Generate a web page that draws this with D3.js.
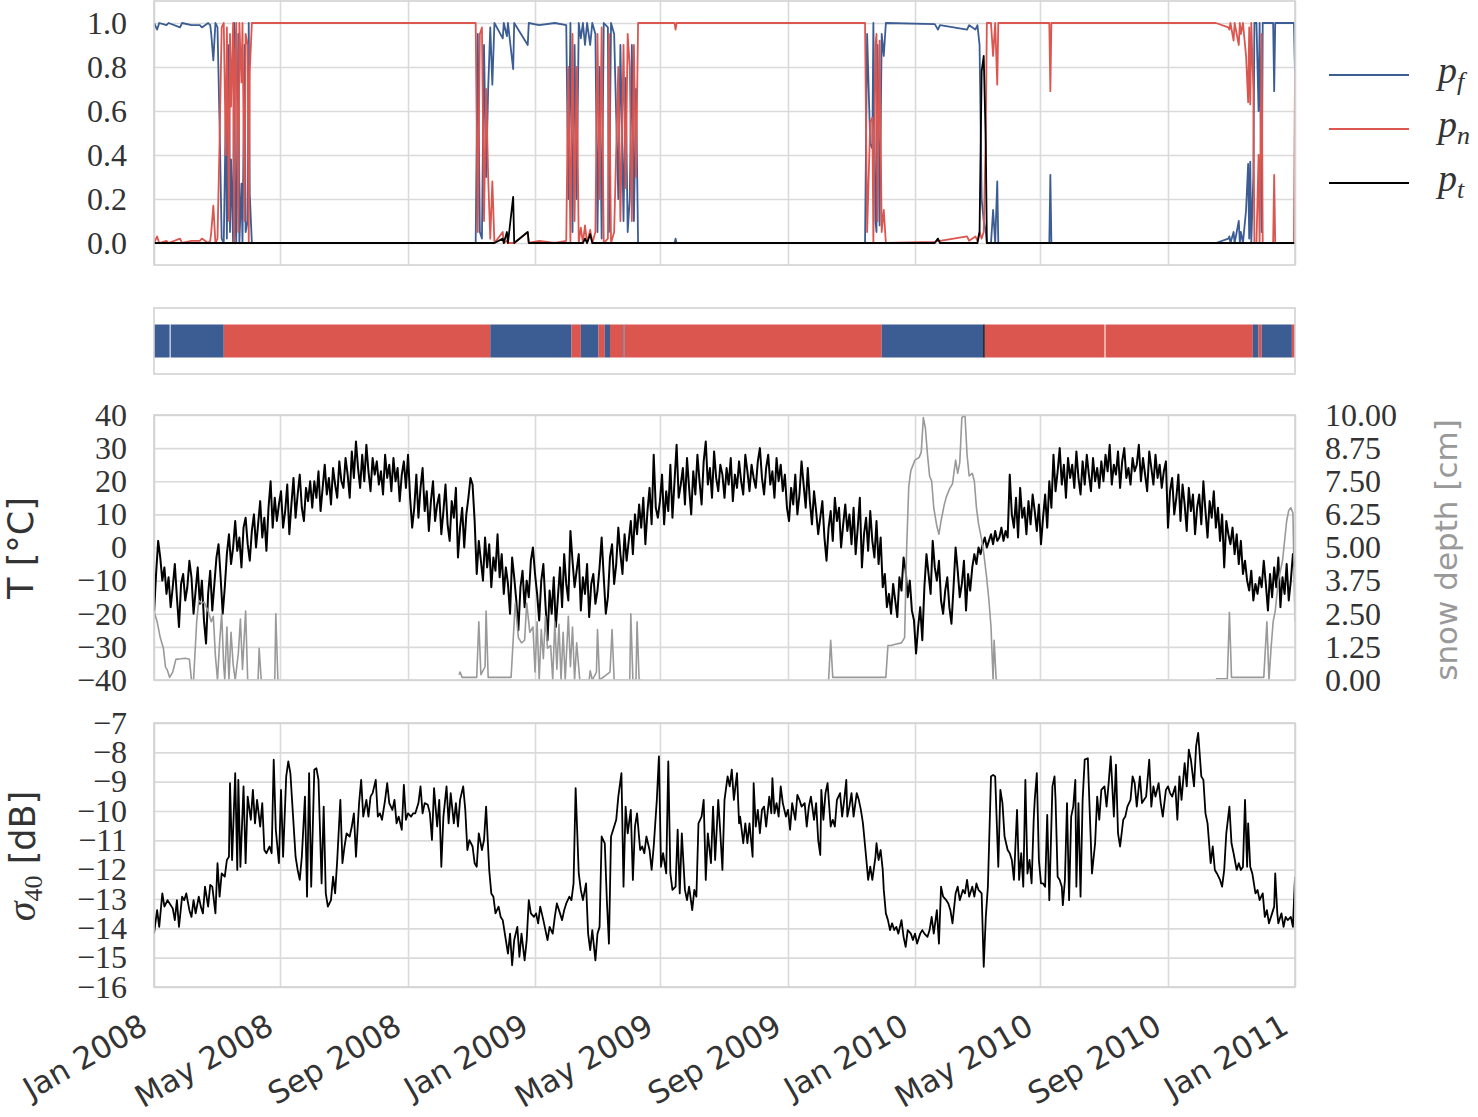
<!DOCTYPE html>
<html>
<head>
<meta charset="utf-8">
<title>freeze / thaw state</title>
<style>
  * { margin: 0; padding: 0 }
  html, body { width: 100%; height: 100%; background: #fff; }
  svg { display: block; }
</style>
</head>
<body>
<svg id="chart" width="1478" height="1117"></svg>
<script src="https://cdn.jsdelivr.net/npm/d3@7"></script>
<script>
// ---- data (day = days since 2008-01-01) ----
const monthTicks = ['2008-01-01', '2008-05-01', '2008-09-01', '2009-01-01', '2009-05-01', '2009-09-01',
  '2010-01-01', '2010-05-01', '2010-09-01', '2011-01-01'];
const probTicks = [0, 0.2, 0.4, 0.6, 0.8, 1.0];
const tempTicks = [-40, -30, -20, -10, 0, 10, 20, 30, 40];
const snowTicks = [0, 1.25, 2.5, 3.75, 5, 6.25, 7.5, 8.75, 10];
const sigmaTicks = [-16, -15, -14, -13, -12, -11, -10, -9, -8, -7];

// [day, p_f, p_n, p_t]
const probPoints = [
  [0,1,0,0],[3,0.97,0.03,0],[5,1,0,0],[12,0.99,0.01,0],[14,1,0,0],[25,0.98,0.02,0],[27,1,0,0],[36,0.99,0.01,0],
  [44,0.99,0.01,0],[46,0.98,0.02,0],[52,1,0,0],[54,0.99,0.01,0],[55,0.95,0.05,0],[57,0.83,0.17,0],[59,1,0,0],
  [61,0.98,0.02,0],[63,0.54,0.46,0],[65,0.02,0.98,0],[67,0,1,0],[69,0.6,0.4,0],[70,0.02,0.98,0],[72,0.9,0.1,0],
  [73,0.05,0.95,0],[74,0.38,0.62,0],[76,0,1,0],[77,1,0,0],[78,0.14,0.86,0],[79,0,1,0],[81,0.95,0.05,0],[82,0,1,0],
  [84,0.27,0.73,0],[85,0,1,0],[87,0.9,0.1,0],[88,0.05,0.95,0],[90,0.1,0.9,0],[91,1,0,0],[92,0.22,0.78,0],[94,0,1,0],
  [309,0,1,0],[311,0.95,0.05,0],[313,0.05,0.95,0],[315,0.02,0.98,0],[317,0.9,0.1,0],[319,0.3,0.7,0],[321,0.7,0.3,0],
  [323,0.98,0.02,0],[325,0.72,0.28,0],[327,1,0,0],[335,0.93,0.05,0.02],[336,1,0,0],[339,0.94,0.01,0.05],[340,1,0,0],
  [345,0.79,0,0.21],[346,1,0,0],[359,0.9,0.05,0.05],[360,1,0,0],[370,0.99,0.01,0],[385,1,0,0],[396,0.99,0.01,0],
  [398,0.2,0.8,0],[400,1,0,0],[402,0.05,0.95,0],[404,0.9,0.1,0],[406,0.2,0.8,0],[408,1,0,0],[410,0.93,0.07,0],
  [412,1,0,0],[414,0.9,0.08,0.02],[416,1,0,0],[419,0.9,0.06,0.04],[421,1,0,0],[424,0.95,0.05,0],[426,0.05,0.95,0],
  [428,0.8,0.2,0],[430,0.02,0.98,0],[432,1,0,0],[436,0.98,0.02,0],[437,0.05,0.95,0],[439,1,0,0],[442,0.95,0.05,0],
  [446,0.2,0.8,0],[448,0.9,0.1,0],[451,0.1,0.9,0],[453,0.75,0.25,0],[455,0.05,0.95,0],[457,0.2,0.8,0],[459,0.9,0.1,0],
  [461,0.1,0.9,0],[463,0.7,0.3,0],[465,0,1,0],[500,0,1,0],[501,0.02,0.97,0],[502,0,1,0],
  [683,0,1,0],[685,0.95,0.05,0],[688,0.45,0.55,0],[690,0.43,0.57,0],[691,1,0,0],[693,0.1,0.9,0],[694,0.05,0.95,0],
  [695,0.9,0.1,0],[697,0.08,0.92,0],[699,0.95,0.05,0],[701,0.85,0.15,0],[703,1,0,0],[750,0.995,0.005,0],
  [753,0.97,0.01,0.02],[755,0.99,0.01,0],[781,0.97,0.03,0],[783,0.99,0.01,0],[789,0.97,0.03,0],[791,0.99,0.01,0],
  [793,0.9,0.05,0.05],[795,0.2,0.02,0.78],[797,0.1,0.05,0.85],[799,0.05,0.5,0.45],[800,0,1,0],[804,0,1,0],
  [806,0.15,0.85,0],[808,0,1,0],[810,0.28,0.72,0],[811,0,1,0],[860,0,1,0],[861,0.31,0.69,0],[862,0,1,0],
  [1020,0,1,0],[1032,0.02,0.98,0],[1033,0.03,0.97,0],[1034,0,1,0],[1037,0.05,0.92,0],[1038,0,1,0],[1042,0.1,0.9,0],
  [1043,0,1,0],[1044,0.05,0.95,0],[1046,0,1,0],[1049,0.15,0.85,0],[1051,0.36,0.64,0],[1052,0.02,0.98,0],
  [1053,0.37,0.63,0],[1054,0,1,0],[1056,0.3,0.7,0],[1057,1,0,0],[1059,1,0,0],[1061,0.6,0.4,0],[1062,1,0,0],
  [1064,0.05,0.95,0],[1065,1,0,0],[1075,1,0,0],[1076,0.69,0.31,0],[1077,1,0,0],[1095,1,0,0],[1096,0.77,0.78,0]
];

// [start day, end day, state]  f = frozen, n = non-frozen, t = thawing
const classSegments = [
  [0,15,'f'],[16,67,'f'],[67,323,'n'],[323,401,'f'],[401,410,'n'],[410,427,'f'],[427,433,'n'],[433,438,'f'],
  [438,451,'n'],[451,452,'f'],[452,699,'n'],[699,796.5,'f'],[796.5,798,'t'],[798,913,'n'],[914,1055.5,'n'],
  [1055.5,1061,'f'],[1061,1064,'n'],[1064,1093,'f'],[1093,1096,'n']
];

// air temperature, one value every 2 days (one row per month)
const tempStep = 2;
const tempValues = [
  -20, -8, 2, -3, -10, -6, -14, -9, -18, -12, -5, -15, -24, -11, -8, -16,
  -12, -4, -9, -20, -13, -6, -17, -10, -22, -29, -14, -7, -19, -11,
  -3, 1, -9, -20, -12, -2, 4, -5, 0, 8, -1, 3, -6, 6, 9, 1,
  -4, 5, 10, 0, 7, 14, 3, 9, -1, 12, 20, 6, 15, 8, 13,
  17, 6, 11, 19, 4, 13, 21, 9, 16, 22, 12, 8, 18, 14, 20,
  12, 20, 15, 23, 11, 18, 25, 16, 21, 13, 24, 19, 15, 26, 20,
  18, 27, 22, 15, 29, 21, 32, 24, 18, 28, 20, 31, 23, 17, 27, 22,
  26, 19, 23, 16, 28, 21, 25, 17, 27, 20, 24, 14, 22, 26, 18,
  28, 15, 6, 12, 22, 9, 18, 24, 11, 17, 5, 14, 20, 8, 13,
  16, 4, 11, 19, 7, 2, 14, 9, 18, -3, 6, 12, 0, 10, 15, 21,
  19, 8, -8, 2, -4, -10, 3, -6, 1, -12, -3, -7, 4, -9, -2,
  -14, -6, -11, -20, -3, -9, -16, -25, -12, -7, -18, -10, -15, -4, 0,
  -8, -14, -22, -10, -5, -17, -28, -13, -20, -9, -24, -15, -6, -18, -2, -11,
  -16, 5, -4, -12, -7, -2, -19, -9, -14, -5, -21, -11, -8, -17,
  -13, -6, 3, -9, -20, -15, -3, 1, -11, -5, 6, -2, -8, 4, -4,
  2, 8, -2, 10, 4, 13, 6, 15, 1, 11, 18, 7, 28, 12, 9,
  14, 22, 7, 17, 11, 25, 9, 20, 31, 15, 19, 24, 13, 27, 18, 10,
  23, 16, 28, 20, 13, 26, 32, 19, 24, 15, 29, 21, 17, 25, 22,
  15, 24, 19, 27, 14, 22, 18, 26, 20, 16, 28, 23, 17, 25, 21,
  18, 26, 30, 21, 16, 24, 28, 19, 23, 15, 27, 20, 25, 17, 22, 12,
  8, 18, 13, 22, 10, 16, 26, 19, 12, 24, 14, 7, 17, 11, 4,
  9, 14, 3, -4, 6, 11, 2, 15, 8, 12, 0, 7, 13, 5, 10,
  1, 12, -2, 6, 15, -6, 4, 9, -1, 11, 2, -3, 8, -5, 3,
  -12, -8, -18, -14, -20, -11, -16, -21, -9, -13, -3, -7, -15, -10, -19, -22,
  -32, -24, -18, -28, -12, -2, -8, -14, 2, -6, -10, -4, -16, -20, -13,
  -9, -18, -23, -12, 0, -7, -15, -11, -4, -19, -8, -13, -6, -2,
  -5, 0, -2, 1, 3, 0, 2, 4, 1, 5, 2, 3, 6, 2, 5, 3,
  22, 10, 6, 15, 3, 18, 9, 12, 4, 14, 7, 16, 11, 5, 13,
  1, 9, 16, 6, 20, 12, 28, 17, 23, 30, 19, 25, 15, 27, 21,
  25, 18, 29, 21, 16, 26, 19, 28, 22, 17, 27, 20, 24, 18, 26,
  20, 28, 23, 31, 19, 25, 22, 29, 18, 26, 30, 21, 24, 19, 27, 23,
  25, 31, 20, 27, 22, 17, 29, 24, 19, 28, 21, 25, 18, 23, 26,
  6, 17, 21, 10, 15, 22, 8, 19, 13, 5, 18, 11, 16, 4, 12,
  16, 7, 20, 11, 3, 14, 9, 17, 6, 12, 2, 10, -6, 8, 4, 1,
  6, -2, 4, -5, 2, -8, -4, -10, -13, -7, -16, -11, -14, -9, -12,
  -4, -11, -19, -8, -15, -6, -12, -3, -18, -9, -14, -5, -16, -10, -2,
  -6
];

// [day, snow depth cm], null = no record
const snowPoints = [
  [0,2.6],[3,2.2],[6,1.6],[9,1.2],[11,0.5],[13,0.35],[15,0.1],[18,0.3],[21,0.78],[26,0.8],[30,0.82],[34,0.78],
  [36,0],[38,0],[41,2.2],[43,3.0],[46,2.9],[48,2.95],[52,2.6],[55,2.2],[57,2.4],[59,0.9],[61,0],[63,1.4],[65,2.5],
  [67,0.5],[68,0],[70,2.0],[72,0],[74,1.8],[76,0.6],[78,0],[81,1.0],[83,2.3],[85,0.4],[88,2.6],[90,0],[100,0],
  [101,1.2],[103,0],[116,0],[117,2.5],[119,0],[121,0],[122,null],
  [293,0.2],[294,0.3],[296,0.1],[310,0.1],[312,2.2],[314,0.2],[318,0.5],[319,2.6],[321,0.1],[343,0.1],[345,1.5],
  [347,2.9],[350,1.6],[353,1.4],[356,1.5],[358,2.9],[361,1.8],[364,2.0],[366,0.3],[368,2.2],[370,0],[372,1.9],
  [374,0.8],[376,2.4],[378,1.2],[381,1.3],[383,0],[385,2.2],[387,0.4],[389,2.1],[391,0],[393,1.8],[395,0],
  [398,2.4],[400,0.5],[402,2.0],[404,0],[406,1.4],[409,0],[418,0],[419,0.35],[421,0],[425,0.3],[426,1.9],[428,0],
  [438,0.3],[440,1.9],[442,0],[457,0],[458,2.5],[460,0],[463,0],[464,2.2],[466,0],[468,0],[469,null],
  [648,0],[650,1.5],[652,0.1],[700,0.1],[703,0.1],[705,1.3],[708,1.3],[712,1.35],[718,1.4],[721,1.6],[723,5.0],
  [725,7.3],[727,7.9],[731,8.3],[735,8.4],[737,8.6],[739,9.9],[741,9.5],[743,8.5],[745,7.7],[747,7.5],[749,6.5],
  [752,5.8],[754,5.5],[756,6.0],[759,6.6],[761,6.9],[764,7.2],[767,7.4],[770,8.3],[772,7.8],[774,8.2],[776,9.9],
  [779,10],[781,8.5],[783,7.7],[786,7.8],[788,7.5],[790,6.5],[792,5.9],[795,5.3],[797,4.8],[800,3.8],[802,3.0],
  [804,2.0],[806,0],[807,1.5],[809,0],[811,0],[812,null],
  [1020,0.05],[1031,0.05],[1033,2.55],[1035,0.1],[1066,0.1],[1069,2.2],[1071,0],[1073,1.2],[1075,2.2],[1077,2.6],
  [1080,3.75],[1084,4.5],[1088,6.0],[1090,6.4],[1092,6.5],[1094,6.3],[1096,2.2]
];

// [day, sigma40 dB]
const sigmaPoints = [
  [0,-14.18],[3,-13.38],[5,-13.95],[8,-12.81],[10,-13.26],[13,-13.04],[18,-13.32],[20,-13.72],[22,-13.04],[24,-13.95],
  [27,-12.92],[29,-13.04],[31,-12.81],[34,-13.38],[36,-13.61],[38,-13.04],[40,-13.49],[43,-12.92],[45,-13.26],[47,-13.49],
  [49,-12.58],[52,-13.26],[54,-12.52],[56,-12.58],[59,-13.49],[61,-11.78],[63,-12.92],[65,-12.13],[68,-12.24],[70,-11.67],
  [72,-11.56],[73,-9.05],[75,-11.67],[78,-8.71],[80,-12.01],[81,-8.94],[83,-11.90],[86,-9.16],[88,-11.78],[90,-9.51],
  [93,-10.30],[95,-9.28],[97,-10.42],[99,-9.62],[102,-10.53],[104,-9.73],[106,-11.33],[108,-11.44],[111,-11.21],[113,-11.44],
  [115,-8.25],[117,-10.64],[120,-11.78],[122,-9.28],[124,-11.56],[127,-8.82],[129,-8.31],[131,-8.71],[133,-9.85],[136,-11.56],
  [138,-12.01],[140,-12.35],[142,-11.56],[145,-9.51],[147,-12.92],[149,-8.71],[151,-12.58],[154,-8.59],[156,-8.54],[158,-8.94],
  [161,-12.47],[163,-9.85],[165,-12.81],[167,-13.26],[170,-13.04],[172,-12.24],[174,-12.81],[176,-11.67],[179,-9.62],[181,-11.78],
  [183,-11.21],[185,-10.76],[188,-10.87],[190,-10.53],[192,-10.08],[194,-11.56],[197,-9.73],[199,-8.94],[201,-10.19],[204,-9.62],
  [206,-10.19],[208,-9.51],[210,-9.39],[213,-8.94],[215,-10.19],[217,-10.08],[219,-10.30],[222,-9.62],[224,-9.05],[226,-9.73],
  [229,-9.96],[231,-9.62],[233,-10.42],[235,-10.19],[238,-10.64],[240,-9.11],[242,-10.30],[244,-10.08],[247,-10.19],[249,-10.08],
  [251,-10.08],[254,-9.73],[256,-9.16],[258,-10.08],[260,-9.73],[263,-9.79],[265,-10.08],[267,-10.99],[269,-9.22],[272,-10.53],
  [274,-9.62],[276,-11.90],[278,-10.19],[281,-9.16],[283,-10.42],[285,-9.39],[288,-10.42],[290,-9.73],[292,-10.53],[294,-9.62],
  [297,-9.16],[299,-9.96],[301,-11.33],[303,-10.99],[306,-11.21],[308,-11.78],[310,-11.90],[312,-10.76],[315,-11.33],[317,-10.99],
  [319,-9.85],[322,-12.01],[324,-12.81],[326,-12.92],[328,-13.49],[331,-13.26],[333,-13.61],[335,-13.72],[337,-14.18],[340,-14.86],
  [342,-14.18],[344,-15.26],[346,-14.40],[349,-13.95],[351,-14.97],[353,-14.18],[356,-15.09],[358,-14.40],[360,-13.04],[362,-13.49],
  [365,-13.61],[367,-13.49],[369,-13.83],[371,-13.26],[374,-13.72],[376,-14.06],[378,-14.40],[380,-13.95],[383,-14.18],[385,-13.61],
  [387,-13.15],[390,-13.49],[392,-13.72],[394,-13.38],[396,-13.15],[399,-12.92],[401,-13.04],[403,-12.47],[405,-9.22],[408,-12.13],
  [410,-12.69],[412,-13.04],[415,-12.47],[417,-14.18],[419,-14.74],[421,-14.06],[424,-15.09],[426,-14.18],[428,-13.95],[430,-10.87],
  [433,-11.10],[435,-13.04],[437,-14.52],[439,-10.87],[442,-10.53],[444,-10.30],[446,-9.51],[449,-8.71],[451,-12.58],[453,-9.85],
  [455,-10.76],[458,-9.96],[460,-12.35],[462,-10.53],[464,-10.08],[467,-11.33],[469,-11.21],[471,-11.44],[473,-10.87],[476,-11.33],
  [478,-12.01],[480,-11.21],[483,-9.62],[485,-8.14],[487,-11.90],[489,-11.44],[492,-12.13],[494,-8.31],[496,-12.13],[498,-12.69],
  [501,-12.58],[503,-10.64],[505,-12.81],[507,-10.76],[510,-12.69],[512,-13.04],[514,-12.58],[517,-13.38],[519,-12.69],[521,-12.92],
  [523,-10.42],[526,-10.19],[528,-9.62],[530,-12.35],[532,-10.76],[535,-11.78],[537,-9.85],[539,-11.67],[542,-9.62],[544,-10.76],
  [546,-12.01],[548,-9.62],[551,-8.82],[553,-9.16],[555,-8.59],[557,-9.62],[560,-8.71],[562,-10.42],
  [563,-10.19],[566,-11.10],[568,-10.42],[570,-11.10],[572,-10.42],[575,-11.56],[576,-9.05],[578,-10.53],[580,-9.96],[582,-10.76],
  [584,-9.96],[586,-9.85],[588,-10.53],[591,-9.51],[593,-10.08],[594,-8.88],[596,-10.08],[598,-9.73],[600,-10.19],[602,-9.16],
  [604,-9.73],[607,-10.19],[609,-9.96],[611,-10.64],[613,-9.73],[616,-10.30],[618,-9.45],[620,-9.62],[622,-9.85],[625,-9.73],
  [627,-10.53],[629,-9.85],[631,-9.51],[634,-10.30],[636,-9.73],[638,-10.99],[640,-11.50],[641,-9.28],[643,-10.30],[645,-9.39],
  [647,-9.05],[650,-10.53],[652,-10.30],[654,-10.53],[656,-9.62],[659,-9.39],[661,-10.19],[663,-9.62],[665,-8.94],[666,-10.19],
  [668,-9.85],[670,-9.39],[672,-10.19],[675,-9.39],[677,-9.62],[679,-9.96],[681,-10.42],[684,-11.56],[686,-12.35],[688,-11.90],
  [690,-12.35],[693,-11.56],[694,-11.10],[696,-11.67],[698,-11.33],[700,-12.01],[701,-12.69],[703,-13.49],[705,-13.72],[707,-14.06],
  [709,-13.83],[711,-14.06],[713,-13.95],[715,-14.18],[718,-13.72],[720,-14.29],[722,-14.63],[724,-14.06],[727,-14.18],[729,-14.40],
  [731,-14.18],[733,-14.52],[736,-14.18],[738,-14.06],[740,-14.18],[743,-14.29],[745,-14.06],[747,-13.61],[749,-14.18],[752,-13.38],
  [754,-14.52],[756,-12.58],[758,-12.92],[761,-13.04],[763,-13.15],[765,-13.38],[767,-13.83],[770,-12.81],[772,-12.58],[774,-13.04],
  [777,-12.69],[779,-12.81],[781,-12.35],[783,-12.92],[786,-12.58],[788,-12.92],[790,-12.47],[792,-12.69],[795,-12.81],[797,-15.31],
  [799,-13.61],[801,-12.58],[804,-8.82],[806,-8.77],[808,-8.82],[811,-11.90],[813,-9.28],[815,-9.73],[817,-10.87],[820,-11.33],
  [822,-11.44],[824,-11.67],[826,-12.35],[829,-9.96],[831,-12.35],[833,-11.44],[835,-12.58],[837,-8.94],[839,-12.13],[841,-11.67],
  [843,-12.47],[845,-10.30],[846,-9.62],[848,-8.71],[850,-11.67],[852,-12.47],[854,-12.47],[856,-12.58],[858,-10.13],[860,-13.04],
  [863,-9.16],[865,-8.82],[866,-9.62],[868,-12.24],[870,-12.35],[872,-12.58],[873,-13.21],[875,-12.35],[877,-9.73],[879,-13.04],
  [881,-10.19],[883,-9.85],[885,-8.94],[886,-12.58],[888,-9.73],[890,-12.92],[892,-9.62],[894,-8.25],[897,-8.20],[899,-10.19],
  [901,-12.13],[904,-11.10],[906,-9.51],[908,-10.30],[910,-9.28],[913,-9.16],[915,-9.85],[917,-9.05],[919,-8.14],[920,-8.82],
  [922,-10.19],[924,-8.42],[926,-10.76],[928,-11.21],[931,-10.30],[933,-10.19],[935,-9.85],[938,-9.62],[940,-8.82],[942,-9.05],
  [944,-9.85],[947,-8.82],[949,-9.73],[951,-9.62],[953,-9.51],[956,-8.25],[958,-9.85],[960,-9.16],[962,-9.51],[965,-9.05],
  [967,-9.73],[969,-10.19],[972,-9.28],[974,-9.16],[976,-9.39],[978,-9.51],[981,-9.16],[983,-10.30],[985,-8.82],[987,-9.62],
  [990,-8.37],[992,-9.16],[994,-7.91],[996,-8.25],[999,-9.16],[1001,-7.80],[1003,-7.34],[1006,-8.82],[1008,-8.94],[1010,-10.08],
  [1012,-10.42],[1015,-11.78],[1017,-11.21],[1019,-12.01],[1021,-12.13],[1024,-12.35],[1026,-12.58],[1028,-12.01],[1030,-10.76],[1033,-9.85],
  [1035,-11.10],[1037,-11.44],[1040,-12.01],[1042,-11.78],[1044,-12.01],[1046,-11.90],[1048,-9.62],[1050,-11.90],[1051,-10.42],[1053,-11.90],
  [1055,-12.13],[1058,-12.81],[1060,-12.69],[1062,-13.04],[1065,-12.81],[1067,-13.61],[1069,-13.38],[1071,-13.83],[1074,-13.49],[1076,-13.26],
  [1077,-12.13],[1079,-13.49],[1080,-13.83],[1083,-13.49],[1085,-13.95],[1087,-13.61],[1089,-13.72],[1092,-13.61],[1094,-13.95],[1096,-12.24]
];

// ---- drawing ----
const t0 = Date.UTC(2008, 0, 1);
const toDate = d => new Date(t0 + d * 864e5);
const left = 154, right = 1295;
const gridColor = '#dadada', frameColor = '#d2d2d2', textColor = '#333';
const blue = '#3c5c94', red = '#dc5650';

const svg = d3.select('#chart');
svg.append('rect').attr('width', 1478).attr('height', 1117).attr('fill', '#fff');
const defs = svg.append('defs');

const x = d3.scaleUtc().domain([toDate(0), toDate(1096)]).range([left, right]);
const monthDates = monthTicks.map(s => new Date(s + 'T00:00:00Z'));

function panel(id, top, bottom, grid, yScale, yTicks) {
  const g = svg.append('g');
  defs.append('clipPath').attr('id', id).append('rect')
    .attr('x', left).attr('y', top).attr('width', right - left).attr('height', bottom - top);
  if (grid) {
    g.append('g').attr('transform', `translate(0,${bottom})`)
      .call(d3.axisBottom(x).tickValues(monthDates).tickSize(-(bottom - top)).tickFormat(''))
      .call(a => a.select('.domain').remove())
      .selectAll('line').attr('stroke', gridColor).attr('stroke-width', 1.6);
    g.append('g').attr('transform', `translate(${left},0)`)
      .call(d3.axisLeft(yScale).tickValues(yTicks).tickSize(-(right - left)).tickFormat(''))
      .call(a => a.select('.domain').remove())
      .selectAll('line').attr('stroke', gridColor).attr('stroke-width', 1.6);
  }
  const plot = g.append('g').attr('clip-path', `url(#${id})`);
  g.append('rect').attr('x', left).attr('y', top).attr('width', right - left).attr('height', bottom - top)
    .attr('fill', 'none').attr('stroke', frameColor).attr('stroke-width', 1.6);
  return { g, plot };
}

function styleTicks(sel) {
  sel.select('.domain').remove();
  sel.attr('font-family', null).attr('font-size', null);
  sel.selectAll('text').attr('fill', textColor)
    .style('font-family', '"Liberation Serif", serif').style('font-size', '32px');
}

// panel 1: probabilities
const yP = d3.scaleLinear().domain([-0.1, 1.1]).range([265, 1]);
const p1 = panel('clip1', 1, 265, true, yP, probTicks);
p1.g.append('g').attr('transform', `translate(${left},0)`)
  .call(d3.axisLeft(yP).tickValues(probTicks).tickSize(0).tickPadding(27).tickFormat(d3.format('.1f')))
  .call(styleTicks);
const probLine = k => d3.line().x(d => x(toDate(d[0]))).y(d => yP(d[k]));
[[1, blue], [2, red], [3, '#000']].forEach(([k, c]) => {
  p1.plot.append('path').datum(probPoints).attr('d', probLine(k))
    .attr('fill', 'none').attr('stroke', c).attr('stroke-width', 1.8).attr('stroke-linejoin', 'round');
});

// legend
const legend = svg.append('g');
[['f', blue, 75], ['n', red, 129], ['t', '#000', 183]].forEach(([s, c, ly]) => {
  legend.append('line').attr('x1', 1329).attr('x2', 1409).attr('y1', ly).attr('y2', ly)
    .attr('stroke', c).attr('stroke-width', 1.8);
  const t = legend.append('text').attr('x', 1438).attr('y', ly + 8).attr('fill', textColor)
    .style('font-family', '"Liberation Serif", serif').style('font-style', 'italic');
  t.append('tspan').style('font-size', '38px').text('p');
  t.append('tspan').style('font-size', '26px').attr('dy', 7).text(s);
});

// panel 2: state
const yC = d3.scaleLinear().domain([0, 1]).range([374, 308]);
const p2 = panel('clip2', 308, 374, false, yC, []);
const stateColor = { f: blue, n: red, t: '#000' };
p2.plot.selectAll('rect.state').data(classSegments).join('rect')
  .attr('x', d => x(toDate(d[0]))).attr('width', d => x(toDate(d[1])) - x(toDate(d[0])))
  .attr('y', yC(0.75)).attr('height', yC(0.25) - yC(0.75))
  .attr('fill', d => stateColor[d[2]]);

// panel 3: temperature and snow
const yT = d3.scaleLinear().domain([-40, 40]).range([680, 415]);
const yS = d3.scaleLinear().domain([0, 10]).range([680, 415]);
const p3 = panel('clip3', 415, 680, true, yT, tempTicks);
p3.g.append('g').attr('transform', `translate(${left},0)`)
  .call(d3.axisLeft(yT).tickValues(tempTicks).tickSize(0).tickPadding(27).tickFormat(d3.format('d')))
  .call(styleTicks);
p3.g.append('g').attr('transform', `translate(${right},0)`)
  .call(d3.axisRight(yS).tickValues(snowTicks).tickSize(0).tickPadding(30).tickFormat(d3.format('.2f')))
  .call(styleTicks);
const tempData = tempValues.map((v, i) => [i * tempStep, v]);
p3.plot.append('path').datum(tempData)
  .attr('d', d3.line().x(d => x(toDate(d[0]))).y(d => yT(d[1])))
  .attr('fill', 'none').attr('stroke', '#000').attr('stroke-width', 2).attr('stroke-linejoin', 'round');
p3.plot.append('path').datum(snowPoints)
  .attr('d', d3.line().defined(d => d[1] != null).x(d => x(toDate(d[0]))).y(d => yS(d[1])))
  .attr('fill', 'none').attr('stroke', '#999').attr('stroke-width', 1.6).attr('stroke-linejoin', 'round');

// panel 4: backscatter
const yB = d3.scaleLinear().domain([-16, -7]).range([987, 723]);
const p4 = panel('clip4', 723, 987, true, yB, sigmaTicks);
p4.g.append('g').attr('transform', `translate(${left},0)`)
  .call(d3.axisLeft(yB).tickValues(sigmaTicks).tickSize(0).tickPadding(27).tickFormat(d3.format('d')))
  .call(styleTicks);
p4.plot.append('path').datum(sigmaPoints)
  .attr('d', d3.line().x(d => x(toDate(d[0]))).y(d => yB(d[1])))
  .attr('fill', 'none').attr('stroke', '#000').attr('stroke-width', 1.8).attr('stroke-linejoin', 'round');

// x axis labels
const xa = svg.append('g').attr('transform', 'translate(0,987)')
  .call(d3.axisBottom(x).tickValues(monthDates).tickSize(0).tickFormat(d3.utcFormat('%b %Y')));
xa.select('.domain').remove();
xa.attr('font-family', null).attr('font-size', null);
xa.selectAll('text').attr('y', 0).attr('dy', null).attr('x', 0)
  .attr('transform', 'translate(-5,45) rotate(-30)').attr('text-anchor', 'end').attr('fill', textColor)
  .style('font-family', '"DejaVu Sans", sans-serif').style('font-size', '31px');

// axis titles
svg.append('text').attr('transform', 'translate(33,548) rotate(-90)').attr('text-anchor', 'middle')
  .attr('fill', textColor).style('font-family', '"DejaVu Sans", sans-serif').style('font-size', '35px')
  .text('T [°C]');
svg.append('text').attr('transform', 'translate(1457,550) rotate(-90)').attr('text-anchor', 'middle')
  .attr('fill', '#999').style('font-family', '"DejaVu Sans", sans-serif').style('font-size', '31px')
  .text('snow depth [cm]');
const sig = svg.append('text').attr('transform', 'translate(35,856) rotate(-90)').attr('text-anchor', 'middle')
  .attr('fill', textColor);
sig.append('tspan').style('font-family', '"Liberation Serif", serif').style('font-style', 'italic')
  .style('font-size', '40px').text('σ');
sig.append('tspan').style('font-family', '"Liberation Serif", serif').style('font-size', '26px')
  .attr('dy', 7).text('40');
sig.append('tspan').style('font-family', '"DejaVu Sans", sans-serif').style('font-size', '35px')
  .attr('dy', -7).text(' [dB]');
</script>
</body>
</html>
